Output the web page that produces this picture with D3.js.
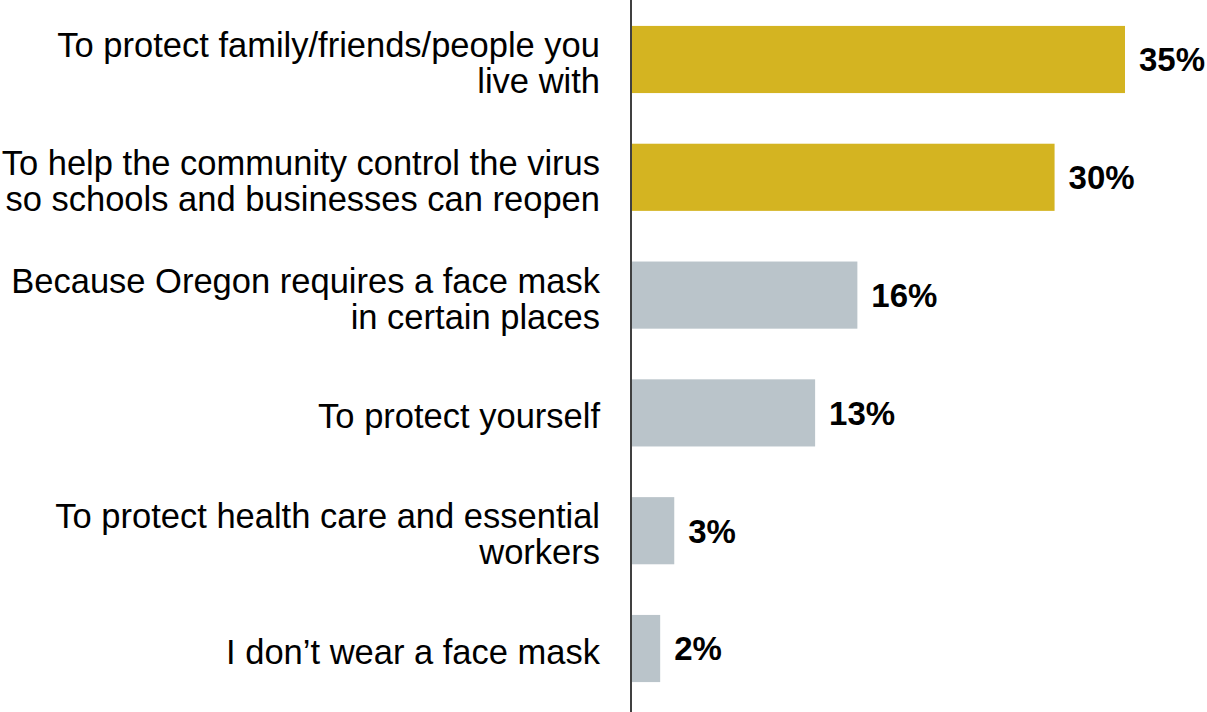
<!DOCTYPE html>
<html>
<head>
<meta charset="utf-8">
<script src="https://cdn.jsdelivr.net/npm/d3@7"></script>
<style>
  html, body { margin: 0; padding: 0; background: #ffffff; }
  svg { display: block; }
  text { font-family: "Liberation Sans", Arial, Helvetica, sans-serif; }
</style>
</head>
<body>
<svg id="chart" width="1207" height="712"></svg>
<script>
// Reasons for wearing a face mask (share of respondents)
const categories = [
  "To protect family/friends/people you\nlive with",
  "To help the community control the virus\nso schools and businesses can reopen",
  "Because Oregon requires a face mask\nin certain places",
  "To protect yourself",
  "To protect health care and essential\nworkers",
  "I don\u2019t wear a face mask"
];
const values = [35, 30, 16, 13, 3, 2];
const highlighted = [true, true, false, false, false, false];

const width = 1207, height = 712;
const axisX = 632;

const svg = d3.select("#chart");

const x = d3.scaleLinear().domain([0, 35]).range([axisX, 1125]);
const y = d3.scaleBand()
  .domain(d3.range(categories.length))
  .range([0, 708])
  .paddingInner(0.43)
  .paddingOuter(0.22);

const colorGold = "#d4b421";
const colorGray = "#bac4ca";

// bars
svg.append("g")
  .selectAll("rect")
  .data(values)
  .join("rect")
  .attr("x", x(0))
  .attr("y", (d, i) => y(i))
  .attr("width", d => x(d) - x(0))
  .attr("height", y.bandwidth())
  .attr("fill", (d, i) => highlighted[i] ? colorGold : colorGray);

// value labels
svg.append("g")
  .selectAll("text")
  .data(values)
  .join("text")
  .attr("x", d => x(d) + 14)
  .attr("y", (d, i) => y(i) + y.bandwidth() / 2)
  .attr("dy", "0.36em")
  .attr("font-size", 33)
  .attr("font-weight", "bold")
  .attr("fill", "#000")
  .text(d => d + "%");

// category labels (right-aligned, wrapped)
const lineH = 36;
const labels = svg.append("g")
  .selectAll("text")
  .data(categories)
  .join("text")
  .attr("text-anchor", "end")
  .attr("font-size", 34.5)
  .attr("fill", "#000");

labels.each(function(d, i) {
  const lines = d.split("\n");
  const cy = y(i) + y.bandwidth() / 2 + 3;
  const t = d3.select(this);
  lines.forEach((ln, k) => {
    t.append("tspan")
      .attr("x", 600)
      .attr("y", cy + (k - (lines.length - 1) / 2) * lineH)
      .attr("dy", "0.36em")
      .text(ln);
  });
});

// vertical axis line
svg.append("line")
  .attr("x1", axisX - 1).attr("x2", axisX - 1)
  .attr("y1", 0).attr("y2", height)
  .attr("stroke", "#000")
  .attr("stroke-width", 1.5);
</script>
</body>
</html>
